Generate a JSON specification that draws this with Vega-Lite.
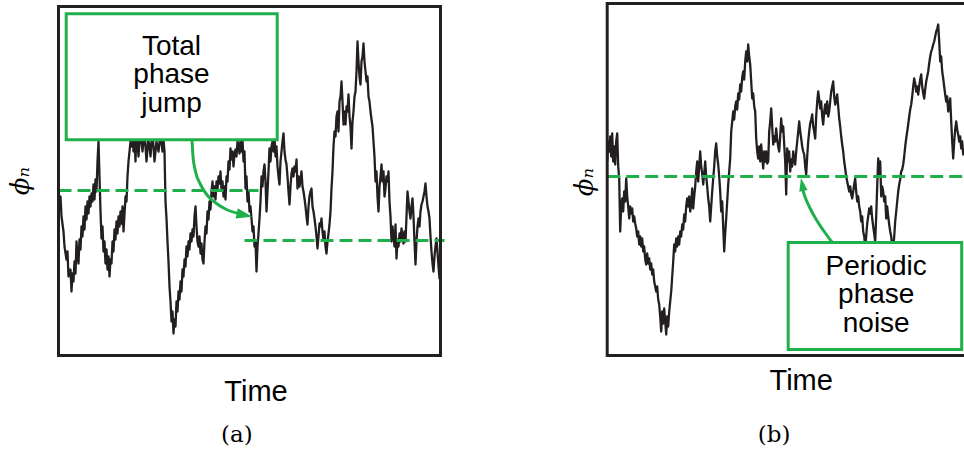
{
  "$schema": "https://vega.github.io/schema/vega-lite/v6.json",
  "padding": {"left": 7.5, "top": 0.5, "right": 0, "bottom": 0},
  "bounds": "flush",
  "spacing": 166.7,
  "config": {
    "view": {"stroke": null},
    "axis": {"labels": false, "ticks": false, "domain": false, "grid": false, "titleColor": "#000000", "titleFontWeight": "normal"},
    "axisX": {"titleFont": "Liberation Sans", "titleFontSize": 29, "titleBaseline": "alphabetic", "titleAlign": "center"},
    "axisY": {"titleFont": "DejaVu Serif", "titleFontStyle": "italic", "titleFontSize": 26, "titleBaseline": "alphabetic", "titleAlign": "center", "titleAngle": 270},
    "title": {"font": "DejaVu Serif", "fontSize": 23, "fontWeight": "normal", "color": "#000000", "orient": "bottom", "anchor": "middle"},
    "text": {"font": "Liberation Sans", "fontSize": 28, "color": "#000000", "align": "center", "baseline": "alphabetic"}
  },
  "datasets": {
    "phaseA": [
      {"n":0,"phi":-0.11},{"n":2,"phi":-0.06},{"n":3,"phi":-0.26},{"n":5,"phi":-0.41},{"n":6,"phi":-0.56},{"n":8,"phi":-0.69},{"n":9,"phi":-0.61},{"n":10,"phi":-0.86},{"n":12,"phi":-0.79},{"n":13,"phi":-1.01},
      {"n":14,"phi":-0.83},{"n":15,"phi":-0.91},{"n":16,"phi":-0.71},{"n":17,"phi":-0.83},{"n":18,"phi":-0.51},{"n":19,"phi":-0.66},{"n":20,"phi":-0.73},{"n":21,"phi":-0.49},{"n":22,"phi":-0.59},{"n":23,"phi":-0.36},
      {"n":24,"phi":-0.46},{"n":25,"phi":-0.26},{"n":26,"phi":-0.39},{"n":27,"phi":-0.16},{"n":28,"phi":-0.29},{"n":29,"phi":-0.11},{"n":30,"phi":-0.23},{"n":31,"phi":-0.06},{"n":32,"phi":-0.16},{"n":33,"phi":-0.03},
      {"n":34,"phi":-0.11},{"n":35,"phi":0.06},{"n":36,"phi":-0.09},{"n":37,"phi":0.11},{"n":38,"phi":-0.01},{"n":39,"phi":0.29},{"n":40,"phi":0.49},{"n":41,"phi":0.14},{"n":42,"phi":-0.21},{"n":43,"phi":-0.48},
      {"n":44,"phi":-0.36},{"n":45,"phi":-0.61},{"n":46,"phi":-0.51},{"n":47,"phi":-0.73},{"n":48,"phi":-0.59},{"n":49,"phi":-0.79},{"n":50,"phi":-0.66},{"n":51,"phi":-0.86},{"n":52,"phi":-0.69},{"n":53,"phi":-0.73},
      {"n":54,"phi":-0.51},{"n":55,"phi":-0.61},{"n":56,"phi":-0.39},{"n":57,"phi":-0.49},{"n":58,"phi":-0.31},{"n":59,"phi":-0.43},{"n":60,"phi":-0.26},{"n":61,"phi":-0.36},{"n":62,"phi":-0.21},{"n":63,"phi":-0.33},
      {"n":64,"phi":-0.16},{"n":65,"phi":-0.41},{"n":66,"phi":-0.24},{"n":67,"phi":-0.06},{"n":68,"phi":-0.11},{"n":69,"phi":0.14},{"n":70,"phi":0.29},{"n":71,"phi":0.39},{"n":72,"phi":0.49},{"n":73,"phi":0.44},
      {"n":74,"phi":0.64},{"n":75,"phi":0.39},{"n":76,"phi":0.54},{"n":77,"phi":0.29},{"n":78,"phi":0.59},{"n":80,"phi":0.34},{"n":82,"phi":0.61},{"n":84,"phi":0.39},{"n":86,"phi":0.59},{"n":88,"phi":0.29},
      {"n":90,"phi":0.54},{"n":92,"phi":0.34},{"n":94,"phi":0.59},{"n":96,"phi":0.29},{"n":98,"phi":0.49},{"n":100,"phi":0.39},{"n":102,"phi":0.57},{"n":104,"phi":0.39},{"n":105,"phi":0.51},{"n":106,"phi":0.39},
      {"n":107,"phi":-0.11},{"n":108,"phi":-0.28},{"n":109,"phi":-0.51},{"n":110,"phi":-0.71},{"n":111,"phi":-0.96},{"n":112,"phi":-1.11},{"n":113,"phi":-1.31},{"n":114,"phi":-1.21},{"n":115,"phi":-1.43},{"n":116,"phi":-1.29},
      {"n":117,"phi":-1.36},{"n":118,"phi":-1.11},{"n":119,"phi":-1.21},{"n":120,"phi":-1.01},{"n":121,"phi":-1.09},{"n":122,"phi":-0.91},{"n":123,"phi":-1.01},{"n":124,"phi":-0.79},{"n":125,"phi":-0.86},{"n":126,"phi":-0.69},
      {"n":127,"phi":-0.76},{"n":128,"phi":-0.56},{"n":129,"phi":-0.66},{"n":130,"phi":-0.51},{"n":131,"phi":-0.59},{"n":132,"phi":-0.43},{"n":133,"phi":-0.51},{"n":134,"phi":-0.39},{"n":135,"phi":-0.46},{"n":136,"phi":-0.26},
      {"n":137,"phi":-0.16},{"n":138,"phi":-0.36},{"n":139,"phi":-0.51},{"n":140,"phi":-0.56},{"n":141,"phi":-0.46},{"n":142,"phi":-0.63},{"n":143,"phi":-0.53},{"n":144,"phi":-0.69},{"n":145,"phi":-0.73},{"n":146,"phi":-0.51},
      {"n":147,"phi":-0.36},{"n":148,"phi":-0.43},{"n":149,"phi":-0.21},{"n":150,"phi":-0.29},{"n":151,"phi":-0.11},{"n":152,"phi":-0.19},{"n":153,"phi":-0.01},{"n":154,"phi":0.09},{"n":155,"phi":-0.06},{"n":156,"phi":0.04},
      {"n":157,"phi":-0.09},{"n":158,"phi":0.09},{"n":159,"phi":0.01},{"n":160,"phi":0.14},{"n":161,"phi":0.07},{"n":162,"phi":0.19},{"n":163,"phi":0.01},{"n":164,"phi":0.09},{"n":165,"phi":-0.06},{"n":166,"phi":0.04},
      {"n":167,"phi":-0.09},{"n":168,"phi":0.14},{"n":169,"phi":0.09},{"n":170,"phi":0.29},{"n":171,"phi":0.21},{"n":172,"phi":0.42},{"n":173,"phi":0.31},{"n":174,"phi":0.39},{"n":175,"phi":0.24},{"n":176,"phi":0.37},
      {"n":177,"phi":0.41},{"n":178,"phi":0.34},{"n":179,"phi":0.49},{"n":180,"phi":0.44},{"n":181,"phi":0.37},{"n":182,"phi":0.51},{"n":183,"phi":0.39},{"n":184,"phi":0.51},{"n":185,"phi":0.29},{"n":186,"phi":0.39},
      {"n":187,"phi":0.02},{"n":188,"phi":0.14},{"n":189,"phi":-0.11},{"n":190,"phi":-0.01},{"n":191,"phi":-0.21},{"n":192,"phi":-0.16},{"n":193,"phi":-0.28},{"n":194,"phi":-0.41},{"n":195,"phi":-0.36},{"n":196,"phi":-0.56},
      {"n":197,"phi":-0.51},{"n":198,"phi":-0.81},{"n":199,"phi":-0.56},{"n":200,"phi":-0.43},{"n":201,"phi":-0.28},{"n":202,"phi":-0.11},{"n":203,"phi":0.14},{"n":204,"phi":0.04},{"n":205,"phi":0.19},{"n":206,"phi":0.26},
      {"n":207,"phi":0.09},{"n":208,"phi":-0.21},{"n":209,"phi":-0.01},{"n":210,"phi":0.19},{"n":211,"phi":0.42},{"n":212,"phi":0.29},{"n":213,"phi":0.44},{"n":214,"phi":0.49},{"n":215,"phi":0.39},{"n":216,"phi":0.54},
      {"n":217,"phi":0.34},{"n":218,"phi":0.44},{"n":219,"phi":0.24},{"n":220,"phi":0.14},{"n":221,"phi":0.06},{"n":222,"phi":0.29},{"n":223,"phi":0.39},{"n":224,"phi":0.49},{"n":225,"phi":0.57},{"n":226,"phi":0.39},
      {"n":227,"phi":0.31},{"n":228,"phi":0.26},{"n":229,"phi":0.14},{"n":230,"phi":-0.01},{"n":231,"phi":-0.14},{"n":232,"phi":0.04},{"n":233,"phi":0.17},{"n":234,"phi":0.22},{"n":235,"phi":0.14},{"n":236,"phi":0.24},
      {"n":237,"phi":0.19},{"n":238,"phi":0.31},{"n":239,"phi":0.02},{"n":240,"phi":0.14},{"n":241,"phi":0.04},{"n":242,"phi":0.11},{"n":243,"phi":0.19},{"n":244,"phi":0.04},{"n":245,"phi":-0.01},{"n":246,"phi":-0.08},
      {"n":247,"phi":-0.16},{"n":248,"phi":-0.26},{"n":249,"phi":-0.34},{"n":250,"phi":-0.16},{"n":251,"phi":-0.06},{"n":252,"phi":-0.01},{"n":253,"phi":0.02},{"n":254,"phi":-0.16},{"n":255,"phi":-0.21},{"n":256,"phi":-0.28},
      {"n":257,"phi":-0.36},{"n":258,"phi":-0.46},{"n":259,"phi":-0.58},{"n":260,"phi":-0.46},{"n":261,"phi":-0.33},{"n":262,"phi":-0.36},{"n":263,"phi":-0.28},{"n":264,"phi":-0.41},{"n":265,"phi":-0.49},{"n":266,"phi":-0.41},
      {"n":267,"phi":-0.56},{"n":268,"phi":-0.63},{"n":269,"phi":-0.51},{"n":270,"phi":-0.43},{"n":271,"phi":-0.34},{"n":272,"phi":-0.21},{"n":273,"phi":0.02},{"n":274,"phi":0.19},{"n":275,"phi":0.44},{"n":276,"phi":0.59},
      {"n":277,"phi":0.54},{"n":278,"phi":0.74},{"n":279,"phi":0.79},{"n":280,"phi":0.59},{"n":281,"phi":0.89},{"n":282,"phi":0.94},{"n":283,"phi":1.09},{"n":284,"phi":0.89},{"n":285,"phi":0.66},{"n":286,"phi":0.79},
      {"n":287,"phi":0.66},{"n":288,"phi":0.84},{"n":289,"phi":0.79},{"n":290,"phi":0.96},{"n":291,"phi":0.74},{"n":292,"phi":0.64},{"n":293,"phi":0.42},{"n":294,"phi":0.69},{"n":295,"phi":0.79},{"n":296,"phi":0.94},
      {"n":297,"phi":0.99},{"n":298,"phi":1.19},{"n":299,"phi":1.49},{"n":300,"phi":1.29},{"n":301,"phi":1.14},{"n":302,"phi":1.06},{"n":303,"phi":1.29},{"n":304,"phi":1.34},{"n":305,"phi":1.47},{"n":306,"phi":1.29},
      {"n":307,"phi":1.19},{"n":308,"phi":1.09},{"n":309,"phi":1.14},{"n":310,"phi":0.94},{"n":311,"phi":0.89},{"n":312,"phi":0.79},{"n":313,"phi":0.71},{"n":314,"phi":0.64},{"n":315,"phi":0.49},{"n":316,"phi":0.34},
      {"n":317,"phi":0.09},{"n":318,"phi":0.19},{"n":319,"phi":-0.06},{"n":320,"phi":-0.21},{"n":321,"phi":0.04},{"n":322,"phi":0.14},{"n":323,"phi":0.26},{"n":324,"phi":0.09},{"n":325,"phi":0.19},{"n":326,"phi":-0.06},
      {"n":327,"phi":0.02},{"n":328,"phi":0.14},{"n":329,"phi":0.09},{"n":330,"phi":0.19},{"n":331,"phi":-0.11},{"n":332,"phi":-0.26},{"n":333,"phi":-0.51},{"n":334,"phi":-0.36},{"n":335,"phi":-0.46},{"n":336,"phi":-0.56},
      {"n":337,"phi":-0.34},{"n":338,"phi":-0.68},{"n":339,"phi":-0.49},{"n":340,"phi":-0.56},{"n":341,"phi":-0.43},{"n":342,"phi":-0.51},{"n":343,"phi":-0.38},{"n":344,"phi":-0.46},{"n":345,"phi":-0.53},{"n":346,"phi":-0.41},
      {"n":347,"phi":-0.51},{"n":348,"phi":-0.26},{"n":349,"phi":-0.01},{"n":350,"phi":-0.11},{"n":351,"phi":-0.21},{"n":352,"phi":-0.28},{"n":353,"phi":-0.16},{"n":354,"phi":-0.08},{"n":355,"phi":-0.26},{"n":356,"phi":-0.51},
      {"n":357,"phi":-0.74},{"n":358,"phi":-0.51},{"n":359,"phi":-0.36},{"n":360,"phi":-0.28},{"n":361,"phi":-0.36},{"n":362,"phi":-0.21},{"n":363,"phi":-0.14},{"n":364,"phi":-0.11},{"n":365,"phi":-0.06},{"n":366,"phi":-0.01},
      {"n":367,"phi":0.07},{"n":368,"phi":-0.06},{"n":369,"phi":-0.16},{"n":370,"phi":-0.21},{"n":371,"phi":-0.28},{"n":372,"phi":-0.46},{"n":373,"phi":-0.61},{"n":374,"phi":-0.73},{"n":375,"phi":-0.81},{"n":376,"phi":-0.66},
      {"n":377,"phi":-0.56},{"n":378,"phi":-0.48},{"n":379,"phi":-0.61},{"n":380,"phi":-0.76},{"n":381,"phi":-0.88},{"n":382,"phi":-0.71}
    ],
    "phaseB": [
      {"n":0,"phi":0.15},{"n":1,"phi":0.35},{"n":2,"phi":0.25},{"n":3,"phi":0.40},{"n":4,"phi":0.20},{"n":5,"phi":0.43},{"n":6,"phi":0.15},{"n":7,"phi":0.30},{"n":8,"phi":0.12},{"n":9,"phi":0.35},
      {"n":10,"phi":0.43},{"n":11,"phi":0.10},{"n":12,"phi":-0.02},{"n":13,"phi":-0.55},{"n":14,"phi":-0.30},{"n":15,"phi":-0.22},{"n":16,"phi":-0.35},{"n":17,"phi":-0.15},{"n":18,"phi":-0.25},{"n":19,"phi":-0.02},
      {"n":20,"phi":-0.20},{"n":21,"phi":-0.30},{"n":22,"phi":-0.42},{"n":23,"phi":-0.30},{"n":24,"phi":-0.37},{"n":25,"phi":-0.32},{"n":26,"phi":-0.45},{"n":27,"phi":-0.40},{"n":28,"phi":-0.47},{"n":29,"phi":-0.52},
      {"n":30,"phi":-0.60},{"n":31,"phi":-0.55},{"n":32,"phi":-0.68},{"n":33,"phi":-0.60},{"n":34,"phi":-0.70},{"n":35,"phi":-0.62},{"n":36,"phi":-0.75},{"n":37,"phi":-0.70},{"n":38,"phi":-0.83},{"n":39,"phi":-0.88},
      {"n":40,"phi":-0.77},{"n":41,"phi":-0.87},{"n":42,"phi":-0.82},{"n":43,"phi":-0.93},{"n":44,"phi":-0.87},{"n":45,"phi":-0.98},{"n":46,"phi":-0.93},{"n":47,"phi":-1.05},{"n":48,"phi":-1.10},{"n":49,"phi":-1.15},
      {"n":50,"phi":-1.10},{"n":51,"phi":-1.23},{"n":52,"phi":-1.28},{"n":53,"phi":-1.40},{"n":54,"phi":-1.55},{"n":55,"phi":-1.35},{"n":56,"phi":-1.47},{"n":57,"phi":-1.32},{"n":58,"phi":-1.45},{"n":59,"phi":-1.58},
      {"n":60,"phi":-1.40},{"n":61,"phi":-1.50},{"n":62,"phi":-1.35},{"n":63,"phi":-1.25},{"n":64,"phi":-1.15},{"n":65,"phi":-1.00},{"n":66,"phi":-0.85},{"n":67,"phi":-0.68},{"n":68,"phi":-0.75},{"n":69,"phi":-0.62},
      {"n":70,"phi":-0.70},{"n":71,"phi":-0.60},{"n":72,"phi":-0.68},{"n":73,"phi":-0.55},{"n":74,"phi":-0.60},{"n":75,"phi":-0.48},{"n":76,"phi":-0.53},{"n":77,"phi":-0.38},{"n":78,"phi":-0.45},{"n":79,"phi":-0.30},
      {"n":80,"phi":-0.22},{"n":81,"phi":-0.30},{"n":82,"phi":-0.20},{"n":83,"phi":-0.35},{"n":84,"phi":-0.28},{"n":85,"phi":-0.12},{"n":86,"phi":-0.32},{"n":87,"phi":-0.20},{"n":88,"phi":-0.10},{"n":89,"phi":0.05},
      {"n":90,"phi":0.15},{"n":91,"phi":-0.05},{"n":92,"phi":0.10},{"n":93,"phi":0.25},{"n":94,"phi":0.10},{"n":95,"phi":0.03},{"n":96,"phi":-0.08},{"n":97,"phi":0.03},{"n":98,"phi":0.15},{"n":99,"phi":0.00},
      {"n":100,"phi":-0.10},{"n":101,"phi":-0.22},{"n":102,"phi":-0.30},{"n":103,"phi":-0.45},{"n":104,"phi":-0.30},{"n":105,"phi":-0.15},{"n":106,"phi":-0.02},{"n":107,"phi":0.10},{"n":108,"phi":0.25},{"n":109,"phi":0.33},
      {"n":110,"phi":0.20},{"n":111,"phi":0.12},{"n":112,"phi":0.00},{"n":113,"phi":-0.15},{"n":114,"phi":-0.35},{"n":115,"phi":-0.25},{"n":116,"phi":-0.50},{"n":117,"phi":-0.75},{"n":118,"phi":-0.57},{"n":119,"phi":-0.42},
      {"n":120,"phi":-0.25},{"n":121,"phi":-0.08},{"n":122,"phi":0.05},{"n":123,"phi":0.18},{"n":124,"phi":0.45},{"n":125,"phi":0.55},{"n":126,"phi":0.65},{"n":127,"phi":0.57},{"n":128,"phi":0.70},{"n":129,"phi":0.75},
      {"n":130,"phi":0.67},{"n":131,"phi":0.83},{"n":132,"phi":0.77},{"n":133,"phi":0.92},{"n":134,"phi":0.85},{"n":135,"phi":0.99},{"n":136,"phi":1.05},{"n":137,"phi":0.97},{"n":138,"phi":1.15},{"n":139,"phi":1.25},
      {"n":140,"phi":1.15},{"n":141,"phi":1.32},{"n":142,"phi":1.20},{"n":143,"phi":1.12},{"n":144,"phi":0.95},{"n":145,"phi":0.78},{"n":146,"phi":0.83},{"n":147,"phi":0.70},{"n":148,"phi":0.65},{"n":149,"phi":0.38},
      {"n":150,"phi":0.25},{"n":151,"phi":0.18},{"n":152,"phi":0.30},{"n":153,"phi":0.15},{"n":154,"phi":0.32},{"n":155,"phi":0.20},{"n":156,"phi":0.08},{"n":157,"phi":0.25},{"n":158,"phi":0.15},{"n":159,"phi":0.25},
      {"n":160,"phi":0.13},{"n":161,"phi":0.15},{"n":162,"phi":0.45},{"n":163,"phi":0.55},{"n":164,"phi":0.68},{"n":165,"phi":0.50},{"n":166,"phi":0.32},{"n":167,"phi":0.40},{"n":168,"phi":0.35},{"n":169,"phi":0.48},
      {"n":170,"phi":0.37},{"n":171,"phi":0.30},{"n":172,"phi":0.25},{"n":173,"phi":0.40},{"n":174,"phi":0.58},{"n":175,"phi":0.45},{"n":176,"phi":0.50},{"n":177,"phi":0.32},{"n":178,"phi":0.15},{"n":179,"phi":-0.18},
      {"n":180,"phi":0.28},{"n":181,"phi":0.15},{"n":182,"phi":0.25},{"n":183,"phi":0.05},{"n":184,"phi":0.17},{"n":185,"phi":0.10},{"n":186,"phi":0.25},{"n":187,"phi":0.17},{"n":188,"phi":0.12},{"n":189,"phi":0.25},
      {"n":190,"phi":0.35},{"n":191,"phi":0.45},{"n":192,"phi":0.55},{"n":193,"phi":0.45},{"n":194,"phi":0.38},{"n":195,"phi":0.30},{"n":196,"phi":0.25},{"n":197,"phi":0.22},{"n":198,"phi":0.10},{"n":199,"phi":0.02},
      {"n":200,"phi":0.20},{"n":201,"phi":0.35},{"n":202,"phi":0.45},{"n":203,"phi":0.53},{"n":204,"phi":0.57},{"n":205,"phi":0.62},{"n":206,"phi":0.50},{"n":207,"phi":0.45},{"n":208,"phi":0.38},{"n":209,"phi":0.60},
      {"n":210,"phi":0.75},{"n":211,"phi":0.85},{"n":212,"phi":0.77},{"n":213,"phi":0.68},{"n":214,"phi":0.75},{"n":215,"phi":0.60},{"n":216,"phi":0.52},{"n":217,"phi":0.65},{"n":218,"phi":0.72},{"n":219,"phi":0.63},
      {"n":220,"phi":0.75},{"n":221,"phi":0.60},{"n":222,"phi":0.65},{"n":223,"phi":0.75},{"n":224,"phi":0.85},{"n":225,"phi":0.90},{"n":226,"phi":0.95},{"n":227,"phi":0.80},{"n":228,"phi":0.72},{"n":229,"phi":0.77},
      {"n":230,"phi":0.82},{"n":231,"phi":0.70},{"n":232,"phi":0.58},{"n":233,"phi":0.50},{"n":234,"phi":0.40},{"n":235,"phi":0.32},{"n":236,"phi":0.25},{"n":237,"phi":0.15},{"n":238,"phi":0.08},{"n":239,"phi":0.00},
      {"n":240,"phi":-0.05},{"n":241,"phi":-0.10},{"n":242,"phi":-0.15},{"n":243,"phi":-0.10},{"n":244,"phi":-0.18},{"n":245,"phi":-0.22},{"n":246,"phi":-0.15},{"n":247,"phi":-0.08},{"n":248,"phi":-0.02},{"n":249,"phi":-0.15},
      {"n":250,"phi":-0.25},{"n":251,"phi":-0.20},{"n":252,"phi":-0.30},{"n":253,"phi":-0.35},{"n":254,"phi":-0.45},{"n":255,"phi":-0.40},{"n":256,"phi":-0.55},{"n":257,"phi":-0.60},{"n":258,"phi":-0.70},{"n":259,"phi":-0.60},
      {"n":260,"phi":-0.47},{"n":261,"phi":-0.40},{"n":262,"phi":-0.32},{"n":263,"phi":-0.37},{"n":264,"phi":-0.30},{"n":265,"phi":-0.42},{"n":266,"phi":-0.50},{"n":267,"phi":-0.57},{"n":268,"phi":-0.65},{"n":269,"phi":-0.40},
      {"n":270,"phi":-0.10},{"n":271,"phi":0.18},{"n":272,"phi":0.00},{"n":273,"phi":0.15},{"n":274,"phi":-0.20},{"n":275,"phi":-0.10},{"n":276,"phi":-0.15},{"n":277,"phi":-0.25},{"n":278,"phi":-0.20},{"n":279,"phi":-0.42},
      {"n":280,"phi":-0.30},{"n":281,"phi":-0.40},{"n":282,"phi":-0.48},{"n":283,"phi":-0.55},{"n":284,"phi":-0.60},{"n":285,"phi":-0.70},{"n":286,"phi":-0.73},{"n":287,"phi":-0.60},{"n":288,"phi":-0.45},{"n":289,"phi":-0.35},
      {"n":290,"phi":-0.25},{"n":291,"phi":-0.15},{"n":292,"phi":-0.08},{"n":293,"phi":-0.03},{"n":294,"phi":0.05},{"n":295,"phi":0.07},{"n":296,"phi":0.12},{"n":297,"phi":0.20},{"n":298,"phi":0.30},{"n":299,"phi":0.38},
      {"n":300,"phi":0.45},{"n":301,"phi":0.52},{"n":302,"phi":0.60},{"n":303,"phi":0.67},{"n":304,"phi":0.72},{"n":305,"phi":0.80},{"n":306,"phi":0.90},{"n":307,"phi":0.98},{"n":308,"phi":0.93},{"n":309,"phi":0.85},
      {"n":310,"phi":0.90},{"n":311,"phi":0.82},{"n":312,"phi":0.90},{"n":313,"phi":0.97},{"n":314,"phi":1.02},{"n":315,"phi":0.90},{"n":316,"phi":0.83},{"n":317,"phi":0.78},{"n":318,"phi":0.87},{"n":319,"phi":0.95},
      {"n":320,"phi":1.00},{"n":321,"phi":1.05},{"n":322,"phi":1.13},{"n":323,"phi":1.20},{"n":324,"phi":1.25},{"n":325,"phi":1.28},{"n":326,"phi":1.32},{"n":327,"phi":1.35},{"n":328,"phi":1.40},{"n":329,"phi":1.45},
      {"n":330,"phi":1.48},{"n":331,"phi":1.52},{"n":332,"phi":1.35},{"n":333,"phi":1.15},{"n":334,"phi":1.20},{"n":335,"phi":1.05},{"n":336,"phi":0.98},{"n":337,"phi":0.90},{"n":338,"phi":0.82},{"n":339,"phi":0.75},
      {"n":340,"phi":0.80},{"n":341,"phi":0.65},{"n":342,"phi":0.70},{"n":343,"phi":0.78},{"n":344,"phi":0.55},{"n":345,"phi":0.35},{"n":346,"phi":0.18},{"n":347,"phi":0.35},{"n":348,"phi":0.47},{"n":349,"phi":0.55},
      {"n":350,"phi":0.47},{"n":351,"phi":0.42},{"n":352,"phi":0.35},{"n":353,"phi":0.40},{"n":354,"phi":0.28},{"n":355,"phi":0.35},{"n":356,"phi":0.22},{"n":357,"phi":0.27}
    ],
    "arrowA": [
      {"n":133.5,"phi":0.51},{"n":134.5,"phi":0.34},{"n":137,"phi":0.19},{"n":142,"phi":0.06},{"n":149,"phi":-0.05},{"n":158,"phi":-0.13},{"n":168,"phi":-0.19},{"n":180,"phi":-0.23}
    ],
    "arrowB": [
      {"n":195,"phi":-0.11},{"n":197,"phi":-0.18},{"n":202,"phi":-0.30},{"n":209,"phi":-0.43},{"n":217,"phi":-0.55},{"n":225,"phi":-0.66}
    ]
  },
  "hconcat": [
    {
      "width": 382,
      "height": 352,
      "title": {"text": "(a)", "dx": -12.6, "offset": 18},
      "layer": [
        {
          "data": {"name": "phaseA"},
          "mark": {"type": "line", "color": "#231f20", "strokeWidth": 2.3, "strokeJoin": "round"},
          "encoding": {
            "x": {"field": "n", "type": "quantitative", "scale": {"domain": [0, 382], "nice": false, "zero": false},
                  "axis": {"title": "Time", "titleX": 197, "titleY": 44.5}},
            "y": {"field": "phi", "type": "quantitative", "scale": {"domain": [-1.65, 1.87], "nice": false, "zero": false},
                  "axis": {"title": "\u03d5\u2099", "titleX": -30, "titleY": 177}}
          }
        },
        {
          "data": {"values": [{}]},
          "mark": {"type": "rule", "color": "#1fb04b", "strokeWidth": 3, "strokeDash": [13, 6]},
          "encoding": {
            "x": {"datum": 0, "type": "quantitative", "scale": {"domain": [0, 382], "nice": false, "zero": false}},
            "x2": {"datum": 200},
            "y": {"datum": 0, "type": "quantitative", "scale": {"domain": [-1.65, 1.87], "nice": false, "zero": false}}
          }
        },
        {
          "data": {"values": [{}]},
          "mark": {"type": "rule", "color": "#1fb04b", "strokeWidth": 3, "strokeDash": [13, 6]},
          "encoding": {
            "x": {"datum": 186, "type": "quantitative", "scale": {"domain": [0, 382], "nice": false, "zero": false}},
            "x2": {"datum": 386},
            "y": {"datum": -0.5, "type": "quantitative", "scale": {"domain": [-1.65, 1.87], "nice": false, "zero": false}}
          }
        },
        {
          "data": {"values": [{}]},
          "mark": {"type": "rect", "fillOpacity": 0, "stroke": "#231f20", "strokeWidth": 3},
          "encoding": {
            "x": {"datum": 0, "type": "quantitative", "scale": {"domain": [0, 382], "nice": false, "zero": false}},
            "x2": {"datum": 382},
            "y": {"datum": -1.65, "type": "quantitative", "scale": {"domain": [-1.65, 1.87], "nice": false, "zero": false}},
            "y2": {"datum": 1.84}
          }
        },
        {
          "data": {"values": [{}]},
          "mark": {"type": "rect", "fill": "#ffffff", "stroke": "#1fb04b", "strokeWidth": 3},
          "encoding": {
            "x": {"datum": 7.7, "type": "quantitative", "scale": {"domain": [0, 382], "nice": false, "zero": false}},
            "x2": {"datum": 218.7},
            "y": {"datum": 0.507, "type": "quantitative", "scale": {"domain": [-1.65, 1.87], "nice": false, "zero": false}},
            "y2": {"datum": 1.767}
          }
        },
        {
          "data": {"values": [{"label": ["Total", "phase", "jump"]}]},
          "mark": {"type": "text", "lineHeight": 28.5},
          "encoding": {
            "x": {"datum": 113, "type": "quantitative", "scale": {"domain": [0, 382], "nice": false, "zero": false}},
            "y": {"datum": 1.36, "type": "quantitative", "scale": {"domain": [-1.65, 1.87], "nice": false, "zero": false}},
            "text": {"field": "label"}
          }
        },
        {
          "data": {"name": "arrowA"},
          "mark": {"type": "line", "color": "#1fb04b", "strokeWidth": 3, "interpolate": "monotone"},
          "encoding": {
            "x": {"field": "n", "type": "quantitative", "scale": {"domain": [0, 382], "nice": false, "zero": false}},
            "y": {"field": "phi", "type": "quantitative", "scale": {"domain": [-1.65, 1.87], "nice": false, "zero": false}}
          }
        },
        {
          "data": {"values": [{}]},
          "mark": {"type": "point", "shape": "M-1,-0.65L1,0L-1,0.65Z", "filled": true, "color": "#1fb04b", "opacity": 1, "size": 256, "angle": 12},
          "encoding": {
            "x": {"datum": 186, "type": "quantitative", "scale": {"domain": [0, 382], "nice": false, "zero": false}},
            "y": {"datum": -0.245, "type": "quantitative", "scale": {"domain": [-1.65, 1.87], "nice": false, "zero": false}}
          }
        }
      ]
    },
    {
      "width": 357,
      "height": 352,
      "title": {"text": "(b)", "dx": -11.5, "offset": 28},
      "layer": [
        {
          "data": {"name": "phaseB"},
          "mark": {"type": "line", "color": "#231f20", "strokeWidth": 2.3, "strokeJoin": "round", "clip": true},
          "encoding": {
            "x": {"field": "n", "type": "quantitative", "scale": {"domain": [0, 357], "nice": false, "zero": false},
                  "axis": {"title": "Time", "titleX": 193.5, "titleY": 34}},
            "y": {"field": "phi", "type": "quantitative", "scale": {"domain": [-1.79, 1.73], "nice": false, "zero": false},
                  "axis": {"title": "\u03d5\u2099", "titleX": -15, "titleY": 178}}
          }
        },
        {
          "data": {"values": [{}]},
          "mark": {"type": "rule", "color": "#1fb04b", "strokeWidth": 3, "strokeDash": [13, 6]},
          "encoding": {
            "x": {"datum": 0, "type": "quantitative", "scale": {"domain": [0, 357], "nice": false, "zero": false}},
            "x2": {"datum": 357},
            "y": {"datum": 0, "type": "quantitative", "scale": {"domain": [-1.79, 1.73], "nice": false, "zero": false}}
          }
        },
        {
          "data": {"values": [{}]},
          "mark": {"type": "rule", "color": "#231f20", "strokeWidth": 3, "strokeCap": "square"},
          "encoding": {
            "x": {"datum": 0, "type": "quantitative", "scale": {"domain": [0, 357], "nice": false, "zero": false}},
            "y": {"datum": -1.79, "type": "quantitative", "scale": {"domain": [-1.79, 1.73], "nice": false, "zero": false}},
            "y2": {"datum": 1.73}
          }
        },
        {
          "data": {"values": [{}]},
          "mark": {"type": "rule", "color": "#231f20", "strokeWidth": 3},
          "encoding": {
            "x": {"datum": 0, "type": "quantitative", "scale": {"domain": [0, 357], "nice": false, "zero": false}},
            "x2": {"datum": 357},
            "y": {"datum": -1.79, "type": "quantitative", "scale": {"domain": [-1.79, 1.73], "nice": false, "zero": false}}
          }
        },
        {
          "data": {"values": [{}]},
          "mark": {"type": "rule", "color": "#231f20", "strokeWidth": 3},
          "encoding": {
            "x": {"datum": 0, "type": "quantitative", "scale": {"domain": [0, 357], "nice": false, "zero": false}},
            "x2": {"datum": 357},
            "y": {"datum": 1.73, "type": "quantitative", "scale": {"domain": [-1.79, 1.73], "nice": false, "zero": false}}
          }
        },
        {
          "data": {"values": [{}]},
          "mark": {"type": "rect", "fill": "#ffffff", "stroke": "#1fb04b", "strokeWidth": 3},
          "encoding": {
            "x": {"datum": 181, "type": "quantitative", "scale": {"domain": [0, 357], "nice": false, "zero": false}},
            "x2": {"datum": 354.5},
            "y": {"datum": -1.73, "type": "quantitative", "scale": {"domain": [-1.79, 1.73], "nice": false, "zero": false}},
            "y2": {"datum": -0.66}
          }
        },
        {
          "data": {"values": [{"label": ["Periodic", "phase", "noise"]}]},
          "mark": {"type": "text", "lineHeight": 28.5},
          "encoding": {
            "x": {"datum": 269, "type": "quantitative", "scale": {"domain": [0, 357], "nice": false, "zero": false}},
            "y": {"datum": -0.98, "type": "quantitative", "scale": {"domain": [-1.79, 1.73], "nice": false, "zero": false}},
            "text": {"field": "label"}
          }
        },
        {
          "data": {"name": "arrowB"},
          "mark": {"type": "line", "color": "#1fb04b", "strokeWidth": 3, "interpolate": "monotone"},
          "encoding": {
            "x": {"field": "n", "type": "quantitative", "scale": {"domain": [0, 357], "nice": false, "zero": false}},
            "y": {"field": "phi", "type": "quantitative", "scale": {"domain": [-1.79, 1.73], "nice": false, "zero": false}}
          }
        },
        {
          "data": {"values": [{}]},
          "mark": {"type": "point", "shape": "M-1,-0.65L1,0L-1,0.65Z", "filled": true, "color": "#1fb04b", "opacity": 1, "size": 169, "angle": 259},
          "encoding": {
            "x": {"datum": 195, "type": "quantitative", "scale": {"domain": [0, 357], "nice": false, "zero": false}},
            "y": {"datum": -0.08, "type": "quantitative", "scale": {"domain": [-1.79, 1.73], "nice": false, "zero": false}}
          }
        }
      ]
    }
  ]
}
